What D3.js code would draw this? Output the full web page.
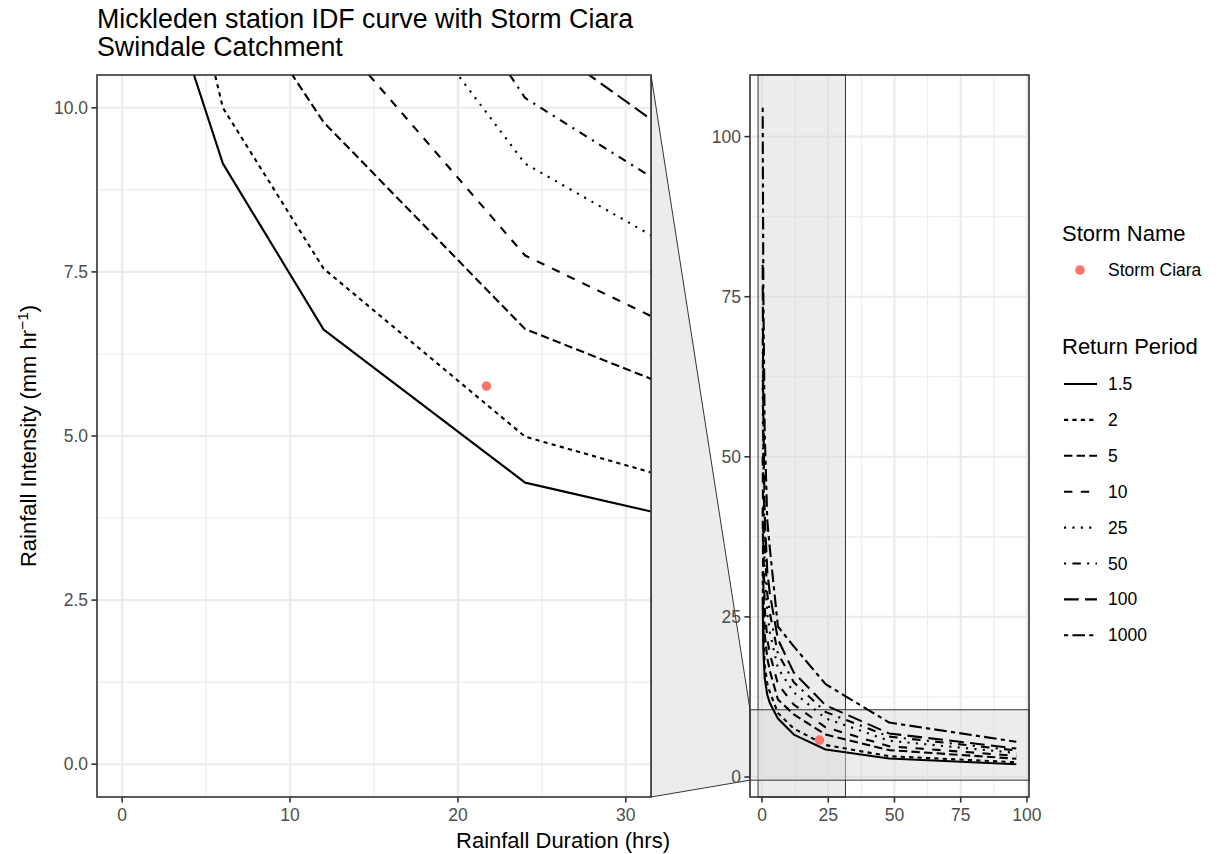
<!DOCTYPE html>
<html lang="en">
<head>
<meta charset="UTF-8">
<title>Mickleden station IDF curve</title>
<script src="https://d3js.org/d3.v7.min.js"></script>
<style>
    body { margin: 0; background: #fff; }
    text { font-family: "Liberation Sans", Arial, Helvetica, sans-serif; }
</style>
</head>
<body>
<div id="chart"></div>
<script>
    // rainfall durations (hrs) shared by every return period curve
    var durations = [0.25, 0.5, 1, 2, 3, 6, 12, 24, 48, 96];
    var returnPeriods = ["1.5", "2", "5", "10", "25", "50", "100", "1000"];
    // intensities (mm/hr), one array per return period
    var rp1_5  = [28, 20, 15.5, 12.8, 11.5, 9.15, 6.62, 4.29, 2.88, 2.0];
    var rp2    = [32, 23, 17.5, 14.6, 13.2, 10.0, 7.55, 4.99, 3.25, 2.3];
    var rp5    = [42, 30, 22.5, 18.5, 16.5, 12.1, 9.78, 6.63, 4.20, 2.85];
    var rp10   = [50, 36, 26.5, 21.5, 19.2, 14.5, 11.3, 7.75, 4.80, 3.30];
    var rp25   = [62, 44, 32, 25.5, 22.5, 17.0, 13.2, 9.15, 5.66, 3.75];
    var rp50   = [70, 50, 36.5, 28.5, 25.5, 19.3, 14.8, 10.15, 6.30, 4.15];
    var rp100  = [80, 57, 41, 32, 28.5, 21.5, 16.3, 11.2, 6.80, 4.45];
    var rp1000 = [104.5, 76, 54, 40, 35.5, 23.5, 20.4, 14.5, 8.50, 5.50];
    var intensities = [rp1_5, rp2, rp5, rp10, rp25, rp50, rp100, rp1000];
    // ggplot's default linetype palette
    var linetypes = ["solid", "22", "42", "44", "13", "1343", "73", "2262"];

    var stormNames = ["Storm Ciara"];
    var stormDuration = [21.7];
    var stormIntensity = [5.76];

    var zoomX = [0, 30], zoomY = [0, 10];
    var xTicksLeft = [0, 10, 20, 30], yTicksLeft = [0, 2.5, 5, 7.5, 10];
    var xTicksRight = [0, 25, 50, 75, 100], yTicksRight = [0, 25, 50, 75, 100];

    var W = 1219, H = 854;
    var lw = 2.1;
    var grid = "#ebebeb", dark = "#333333", tickCol = "#4d4d4d";
    var zoomFill = "rgba(217,217,217,0.5)";

    function expand(ext) { var d = (ext[1] - ext[0]) * 0.05; return [ext[0] - d, ext[1] + d]; }
    function dash(code) {
        if (code === "solid") return null;
        return code.split("").map(function (c) { return parseInt(c, 16) * lw; }).join(",");
    }
    function mids(t) { var m = []; for (var i = 1; i < t.length; i++) m.push((t[i - 1] + t[i]) / 2); return m; }

    var series = returnPeriods.map(function (rp, i) {
        return { rp: rp, lt: linetypes[i], pts: durations.map(function (d, j) { return { x: d, y: intensities[i][j] }; }) };
    });
    var storms = stormNames.map(function (n, i) { return { name: n, x: stormDuration[i], y: stormIntensity[i] }; });

    var allY = [].concat.apply([], intensities);
    var left = { x0: 97, x1: 651, y0: 75, y1: 797 };
    var right = { x0: 750, x1: 1029, y0: 75, y1: 797 };

    var xL = d3.scaleLinear().domain(expand(zoomX)).range([left.x0, left.x1]);
    var yL = d3.scaleLinear().domain(expand(zoomY)).range([left.y1, left.y0]);
    var xR = d3.scaleLinear().domain(expand(d3.extent(durations))).range([right.x0, right.x1]);
    var yR = d3.scaleLinear().domain(expand(d3.extent(allY))).range([right.y1, right.y0]);

    var svg = d3.select("#chart").append("svg")
        .attr("width", W).attr("height", H)
        .style("display", "block");

    // zoom link between the two panels
    var zx = expand(zoomX), zy = expand(zoomY);
    svg.append("path")
        .attr("d", "M" + left.x1 + "," + left.y0 + "L" + right.x0 + "," + yR(zy[1]) +
            "L" + right.x0 + "," + yR(zy[0]) + "L" + left.x1 + "," + left.y1 + "Z")
        .attr("fill", zoomFill).attr("stroke", dark).attr("stroke-width", 1);

    function panel(p, x, y, xt, yt, id, showZoom) {
        var g = svg.append("g");
        g.append("clipPath").attr("id", id).append("rect")
            .attr("x", p.x0).attr("y", p.y0).attr("width", p.x1 - p.x0).attr("height", p.y1 - p.y0);
        g.append("rect").attr("x", p.x0).attr("y", p.y0)
            .attr("width", p.x1 - p.x0).attr("height", p.y1 - p.y0).attr("fill", "#fff");

        var gg = g.append("g");
        gg.selectAll(".mx").data(mids(xt)).enter().append("line")
            .attr("x1", x).attr("x2", x).attr("y1", p.y0).attr("y2", p.y1)
            .attr("stroke", grid).attr("stroke-width", 1.1);
        gg.selectAll(".my").data(mids(yt)).enter().append("line")
            .attr("y1", y).attr("y2", y).attr("x1", p.x0).attr("x2", p.x1)
            .attr("stroke", grid).attr("stroke-width", 1.1);
        gg.selectAll(".gx").data(xt).enter().append("line")
            .attr("x1", x).attr("x2", x).attr("y1", p.y0).attr("y2", p.y1)
            .attr("stroke", grid).attr("stroke-width", 2.1);
        gg.selectAll(".gy").data(yt).enter().append("line")
            .attr("y1", y).attr("y2", y).attr("x1", p.x0).attr("x2", p.x1)
            .attr("stroke", grid).attr("stroke-width", 2.1);

        if (showZoom) {
            g.append("rect").attr("x", x(zx[0])).attr("width", x(zx[1]) - x(zx[0]))
                .attr("y", p.y0).attr("height", p.y1 - p.y0)
                .attr("fill", zoomFill).attr("stroke", dark).attr("stroke-width", 1);
            g.append("rect").attr("x", p.x0).attr("width", p.x1 - p.x0)
                .attr("y", y(zy[1])).attr("height", y(zy[0]) - y(zy[1]))
                .attr("fill", zoomFill).attr("stroke", dark).attr("stroke-width", 1);
        }

        var line = d3.line().x(function (d) { return x(d.x); }).y(function (d) { return y(d.y); });
        var data = g.append("g").attr("clip-path", "url(#" + id + ")");
        data.selectAll("path").data(series).enter().append("path")
            .attr("d", function (d) { return line(d.pts); })
            .attr("fill", "none").attr("stroke", "#000").attr("stroke-width", lw)
            .attr("stroke-linejoin", "round")
            .attr("stroke-dasharray", function (d) { return dash(d.lt); });
        data.selectAll("circle").data(storms).enter().append("circle")
            .attr("cx", function (d) { return x(d.x); }).attr("cy", function (d) { return y(d.y); })
            .attr("r", 4.8).attr("fill", "#F8766D");

        g.append("rect").attr("x", p.x0).attr("y", p.y0)
            .attr("width", p.x1 - p.x0).attr("height", p.y1 - p.y0)
            .attr("fill", "none").attr("stroke", dark).attr("stroke-width", 1.6);

        // axes
        g.selectAll(".tx").data(xt).enter().append("line")
            .attr("x1", x).attr("x2", x).attr("y1", p.y1).attr("y2", p.y1 + 5.6)
            .attr("stroke", dark).attr("stroke-width", 1.6);
        g.selectAll(".lx").data(xt).enter().append("text")
            .attr("x", x).attr("y", p.y1 + 24)
            .attr("text-anchor", "middle").attr("fill", tickCol).style("font-size", "17.5px")
            .text(function (d) { return d; });
        g.selectAll(".ty").data(yt).enter().append("line")
            .attr("y1", y).attr("y2", y).attr("x1", p.x0 - 5.6).attr("x2", p.x0)
            .attr("stroke", dark).attr("stroke-width", 1.6);
        g.selectAll(".ly").data(yt).enter().append("text")
            .attr("x", p.x0 - 9).attr("y", function (d) { return y(d) + 6; })
            .attr("text-anchor", "end").attr("fill", tickCol).style("font-size", "17.5px")
            .text(function (d) { return id === "clipL" ? d3.format(".1f")(d) : d; });
    }

    panel(left, xL, yL, xTicksLeft, yTicksLeft, "clipL", false);
    panel(right, xR, yR, xTicksRight, yTicksRight, "clipR", true);

    // titles
    var title = svg.append("text").attr("x", 97).style("font-size", "26.8px").attr("fill", "#000");
    title.append("tspan").attr("x", 97).attr("y", 28).text("Mickleden station IDF curve with Storm Ciara");
    title.append("tspan").attr("x", 97).attr("y", 56).text("Swindale Catchment");

    svg.append("text")
        .attr("x", (left.x0 + right.x1) / 2).attr("y", 848)
        .attr("text-anchor", "middle").style("font-size", "22px")
        .text("Rainfall Duration (hrs)");

    var yt = svg.append("text")
        .attr("transform", "translate(36," + (left.y0 + left.y1) / 2 + ") rotate(-90)")
        .attr("text-anchor", "middle").style("font-size", "22px");
    yt.append("tspan").text("Rainfall Intensity (mm hr");
    yt.append("tspan").attr("dy", -8).style("font-size", "15.5px").text("\u22121");
    yt.append("tspan").attr("dy", 8).text(")");

    // legend
    var lg = svg.append("g");
    lg.append("text").attr("x", 1062).attr("y", 241).style("font-size", "22px").text("Storm Name");
    var sl = lg.selectAll(".sk").data(storms).enter().append("g");
    sl.append("circle").attr("cx", 1080).attr("cy", function (d, i) { return 270 + i * 36; })
        .attr("r", 4.8).attr("fill", "#F8766D");
    sl.append("text").attr("x", 1108).attr("y", function (d, i) { return 276 + i * 36; })
        .style("font-size", "17.5px").text(function (d) { return d.name; });

    lg.append("text").attr("x", 1062).attr("y", 354).style("font-size", "22px").text("Return Period");
    var rl = lg.selectAll(".rk").data(series).enter().append("g");
    rl.append("line").attr("x1", 1064).attr("x2", 1097)
        .attr("y1", function (d, i) { return 384 + i * 35.9; })
        .attr("y2", function (d, i) { return 384 + i * 35.9; })
        .attr("stroke", "#000").attr("stroke-width", lw)
        .attr("stroke-dasharray", function (d) { return dash(d.lt); });
    rl.append("text").attr("x", 1108).attr("y", function (d, i) { return 390 + i * 35.9; })
        .style("font-size", "17.5px").text(function (d) { return d.rp; });
</script>
</body>
</html>
